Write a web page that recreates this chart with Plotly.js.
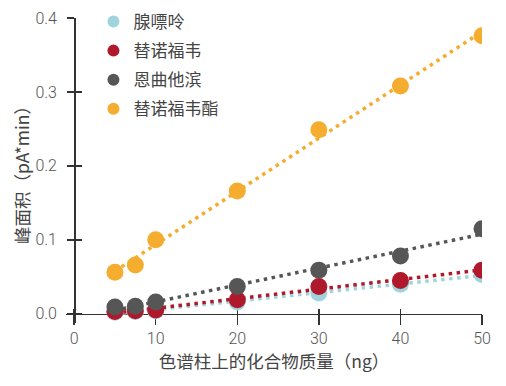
<!DOCTYPE html>
<html>
<head>
<meta charset="utf-8">
<script src="https://cdn.plot.ly/plotly-3.0.1.min.js"></script>
<style>html,body{margin:0;padding:0;background:#fff;}#chart{width:506px;height:386px;}</style>
</head>
<body>
<div id="chart"></div>
<script>
// ---- data ----
const massNg = [5, 7.5, 10, 20, 30, 40, 50];
const seriesNames = ["腺嘌呤", "替诺福韦", "恩曲他滨", "替诺福韦酯"];
const adenine    = [0.002, 0.003, 0.004, 0.016, 0.028, 0.040, 0.053];
const tenofovir  = [0.003, 0.004, 0.005, 0.019, 0.037, 0.045, 0.059];
const emtricitabine = [0.009, 0.010, 0.016, 0.037, 0.059, 0.078, 0.115];
const tdf        = [0.056, 0.066, 0.100, 0.166, 0.249, 0.308, 0.376];
const xTicks = [0, 10, 20, 30, 40, 50];
const yTicks = [0, 0.1, 0.2, 0.3, 0.4];

const colors = ["#9fd4dc", "#b0182b", "#565656", "#f5ad2f"];
const allSeries = [adenine, tenofovir, emtricitabine, tdf];

function fit(xs, ys) {
  const n = xs.length;
  const mx = xs.reduce((a,b)=>a+b,0)/n, my = ys.reduce((a,b)=>a+b,0)/n;
  let sxy = 0, sxx = 0;
  for (let i=0;i<n;i++){ sxy += (xs[i]-mx)*(ys[i]-my); sxx += (xs[i]-mx)*(xs[i]-mx); }
  const b = sxy/sxx, a = my - b*mx;
  const x0 = Math.min(...xs), x1 = Math.max(...xs);
  return {x:[x0, x1], y:[a+b*x0, a+b*x1]};
}

const traces = [];
allSeries.forEach((ys, i) => {
  const f = fit(massNg, ys);
  traces.push({x:f.x, y:f.y, mode:'lines', showlegend:false, hoverinfo:'skip',
    line:{color:colors[i], width:3.5, dash:'3.5px,4.5px'}});
});
allSeries.forEach((ys, i) => {
  traces.push({x:massNg, y:ys, mode:'markers', name:seriesNames[i], legendgroup:'g'+i,
    marker:{color:colors[i], size:17}});
});
// helper trace for inside-tick overlay axes
traces.push({x:[], y:[], xaxis:'x2', yaxis:'y2', showlegend:false, hoverinfo:'skip', mode:'markers'});

const xr = [-1, 50], yr = [-0.0125, 0.4];
const xPos = (0 - yr[0])/(yr[1]-yr[0]);
const yPos = (0 - xr[0])/(xr[1]-xr[0]);
const tickFont = {family:'Roboto, "Liberation Sans", sans-serif', size:16, color:'#555', weight:300};
const cjk = '"Noto Sans CJK SC", sans-serif';

const layout = {
  width:506, height:386,
  margin:{l:66, r:24, t:18, b:63, autoexpand:false},
  paper_bgcolor:'#fff', plot_bgcolor:'#fff',
  showlegend:true,
  legend:{x:0.066, y:1.046, xanchor:'left', yanchor:'top',
    bgcolor:'rgba(0,0,0,0)', font:{family:cjk, size:17, color:'#444'}, itemsizing:'constant',
    tracegroupgap:4},
  xaxis:{range:xr, anchor:'free', position:xPos, showline:true, linecolor:'#333', linewidth:1.5,
    showgrid:false, zeroline:false, tickvals:xTicks, ticks:'outside', ticklen:10, tickwidth:1.5,
    tickcolor:'#333', tickfont:tickFont, ticklabelstandoff:0, layer:'below traces',
    title:{text:'色谱柱上的化合物质量（ng）', font:{family:cjk, size:17.5, color:'#444'}, standoff:0}},
  yaxis:{range:yr, anchor:'free', position:yPos, showline:true, linecolor:'#333', linewidth:1.5,
    showgrid:false, zeroline:false, tickvals:yTicks, tickformat:'.1f', ticks:'outside', ticklen:7,
    tickwidth:1.5, tickcolor:'#333', tickfont:tickFont, ticklabelstandoff:7, layer:'below traces',
    title:{text:'峰面积（pA*min）', font:{family:cjk, size:17.5, color:'#444'}, standoff:0}},
  xaxis2:{range:xr, overlaying:'x', anchor:'free', position:xPos, showline:false, showgrid:false,
    zeroline:false, tickvals:xTicks, ticks:'inside', ticklen:5, tickwidth:1.5, tickcolor:'#333',
    showticklabels:false, layer:'below traces'},
  yaxis2:{range:yr, overlaying:'y', anchor:'free', position:yPos, side:'left', showline:false,
    showgrid:false, zeroline:false, tickvals:yTicks, ticks:'inside', ticklen:7, tickwidth:1.5,
    tickcolor:'#333', showticklabels:false, layer:'below traces'}
};

Plotly.newPlot('chart', traces, layout, {staticPlot:true, displayModeBar:false});
</script>
</body>
</html>
